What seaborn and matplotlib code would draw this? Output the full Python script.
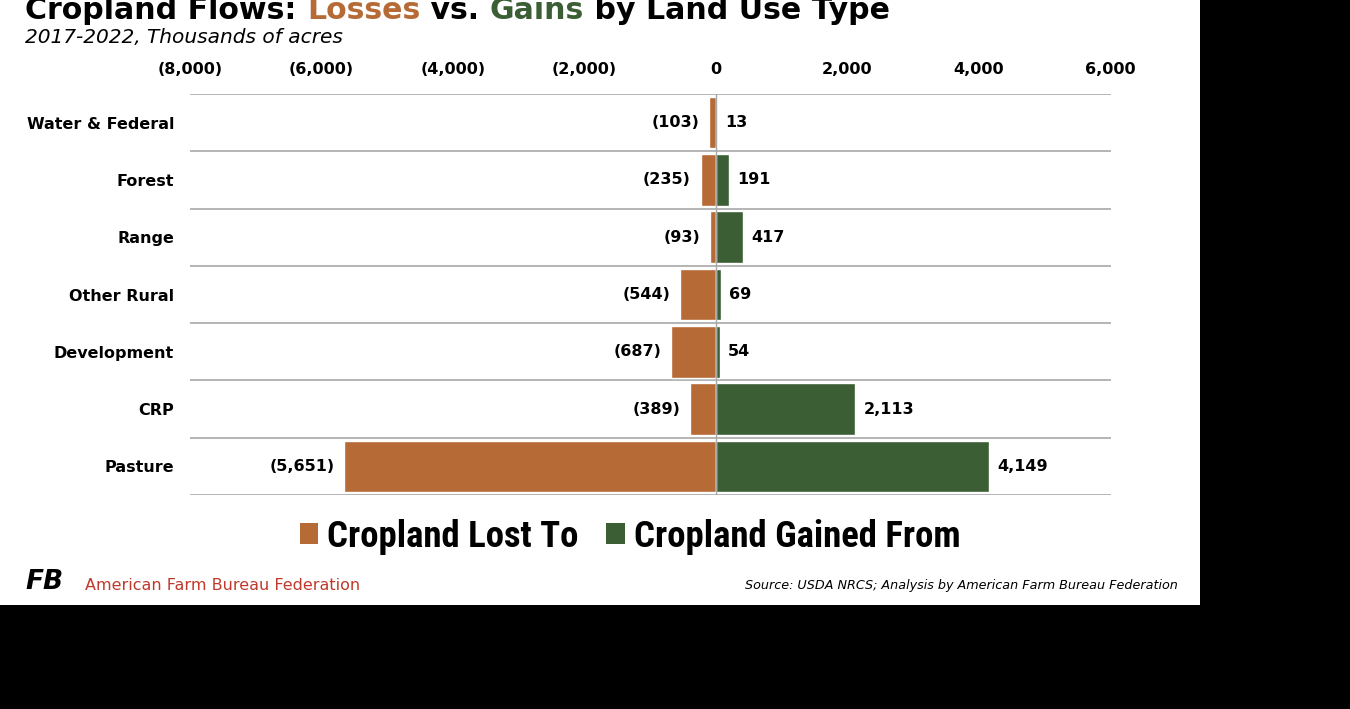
import matplotlib
matplotlib.use("Agg")
import matplotlib.pyplot as plt
import seaborn as sns
import numpy as np
import pandas as pd
from matplotlib.patches import Rectangle, Patch

categories = ["Water & Federal", "Forest", "Range", "Other Rural", "Development", "CRP", "Pasture"]
losses = [103, 235, 93, 544, 687, 389, 5651]
gains = [13, 191, 417, 69, 54, 2113, 4149]
xticks = [-8000, -6000, -4000, -2000, 0, 2000, 4000, 6000]
legend_labels = ["Cropland Lost To", "Cropland Gained From"]

ORANGE = "#B66A36"
GREEN = "#3C5E34"
GRID = "#A8A8A8"

sns.set_theme(style="white")
plt.rcParams["font.family"] = ["DejaVu Sans"]
plt.rcParams["text.color"] = "black"

W, H = 1350, 709
fig = plt.figure(figsize=(W / 100, H / 100), dpi=100, facecolor="black")
fig.patches.append(Rectangle((0, 1 - 605 / H), 1200 / W, 605 / H, transform=fig.transFigure,
                             facecolor="white", edgecolor="none", zorder=-10))

ax = fig.add_axes([190 / W, 1 - 495 / H, (1110.5 - 190) / W, (495 - 94) / H])
ax.set_facecolor("white")

df = pd.DataFrame({"cat": categories, "loss": [-v for v in losses], "gain": gains})
sns.barplot(data=df, x="loss", y="cat", orient="h", color=ORANGE, saturation=1, width=0.9, ax=ax)
sns.barplot(data=df, x="gain", y="cat", orient="h", color=GREEN, saturation=1, width=0.9, ax=ax)

lab_font = dict(fontsize=11.5, fontweight="bold", color="black")
ax.bar_label(ax.containers[0], labels=[f"({v:,})" for v in losses], padding=7, **lab_font)
ax.bar_label(ax.containers[1], labels=[f"{v:,}" for v in gains], padding=6, **lab_font)

ax.set_xlim(-8000, 6000)
ax.set_ylim(len(categories) - 0.5, -0.5)
for y in np.arange(-0.5, len(categories), 1.0):
    ax.axhline(y, color=GRID, lw=1.2, zorder=0)
ax.axvline(0, color=GRID, lw=1.0, zorder=5)

ax.xaxis.tick_top()
ax.set_xticks(xticks)
ax.set_xticklabels([f"({abs(v):,})" if v < 0 else f"{v:,}" for v in xticks],
                   fontsize=11.5, fontweight="bold", color="black")
ax.tick_params(axis="x", length=0, pad=12)
ax.tick_params(axis="y", length=0, pad=11.5)
for t in ax.get_yticklabels():
    t.set_fontsize(11.5)
    t.set_fontweight("bold")
    t.set_color("black")
ax.set_xlabel("")
ax.set_ylabel("")
for s in ax.spines.values():
    s.set_visible(False)
ax.grid(False)

# Title with colored words
title_font = dict(fontsize=21.6, fontweight="bold", family=["DejaVu Sans"])
t0 = fig.text(25 / W, 1 - 19 / H, "Cropland Flows: ", color="black", va="baseline", ha="left", **title_font)
parts = [("Losses", ORANGE), (" vs. ", "black"), ("Gains", GREEN), (" by Land Use Type", "black")]
prev = t0
for txt, col in parts:
    prev = ax.annotate(txt, xy=(1, 0), xycoords=prev, va="bottom", ha="left",
                       color=col, annotation_clip=False, **title_font)

fig.text(25 / W, 1 - 43 / H, "2017-2022, Thousands of acres", fontsize=14.5, style="italic",
         va="baseline", ha="left", color="black")

# Legend
handles = [Patch(facecolor=ORANGE, edgecolor="none"), Patch(facecolor=GREEN, edgecolor="none")]
leg = fig.legend(handles, legend_labels, loc="center", bbox_to_anchor=(630 / W, 1 - 537 / H), ncol=2,
                 frameon=False, handlelength=0.5, handleheight=0.5, handletextpad=0.25,
                 columnspacing=0.75, borderpad=0, labelcolor="black",
                 prop=dict(family=["Roboto Condensed", "Liberation Sans Narrow", "Roboto"],
                           weight="bold", size=26.5))

# Footer
fig.text(25 / W, 1 - 582 / H, "FB", fontsize=19, fontweight="heavy", style="italic", color="black",
         va="center", ha="left")
fig.text(85 / W, 1 - 586 / H, "American Farm Bureau Federation", fontsize=11.5, color="#C0392B",
         va="center", ha="left")
fig.text(1178 / W, 1 - 585 / H, "Source: USDA NRCS; Analysis by American Farm Bureau Federation",
         fontsize=9.2, style="italic", color="black", va="center", ha="right")

fig.savefig("out.png", dpi=100, facecolor=fig.get_facecolor())
